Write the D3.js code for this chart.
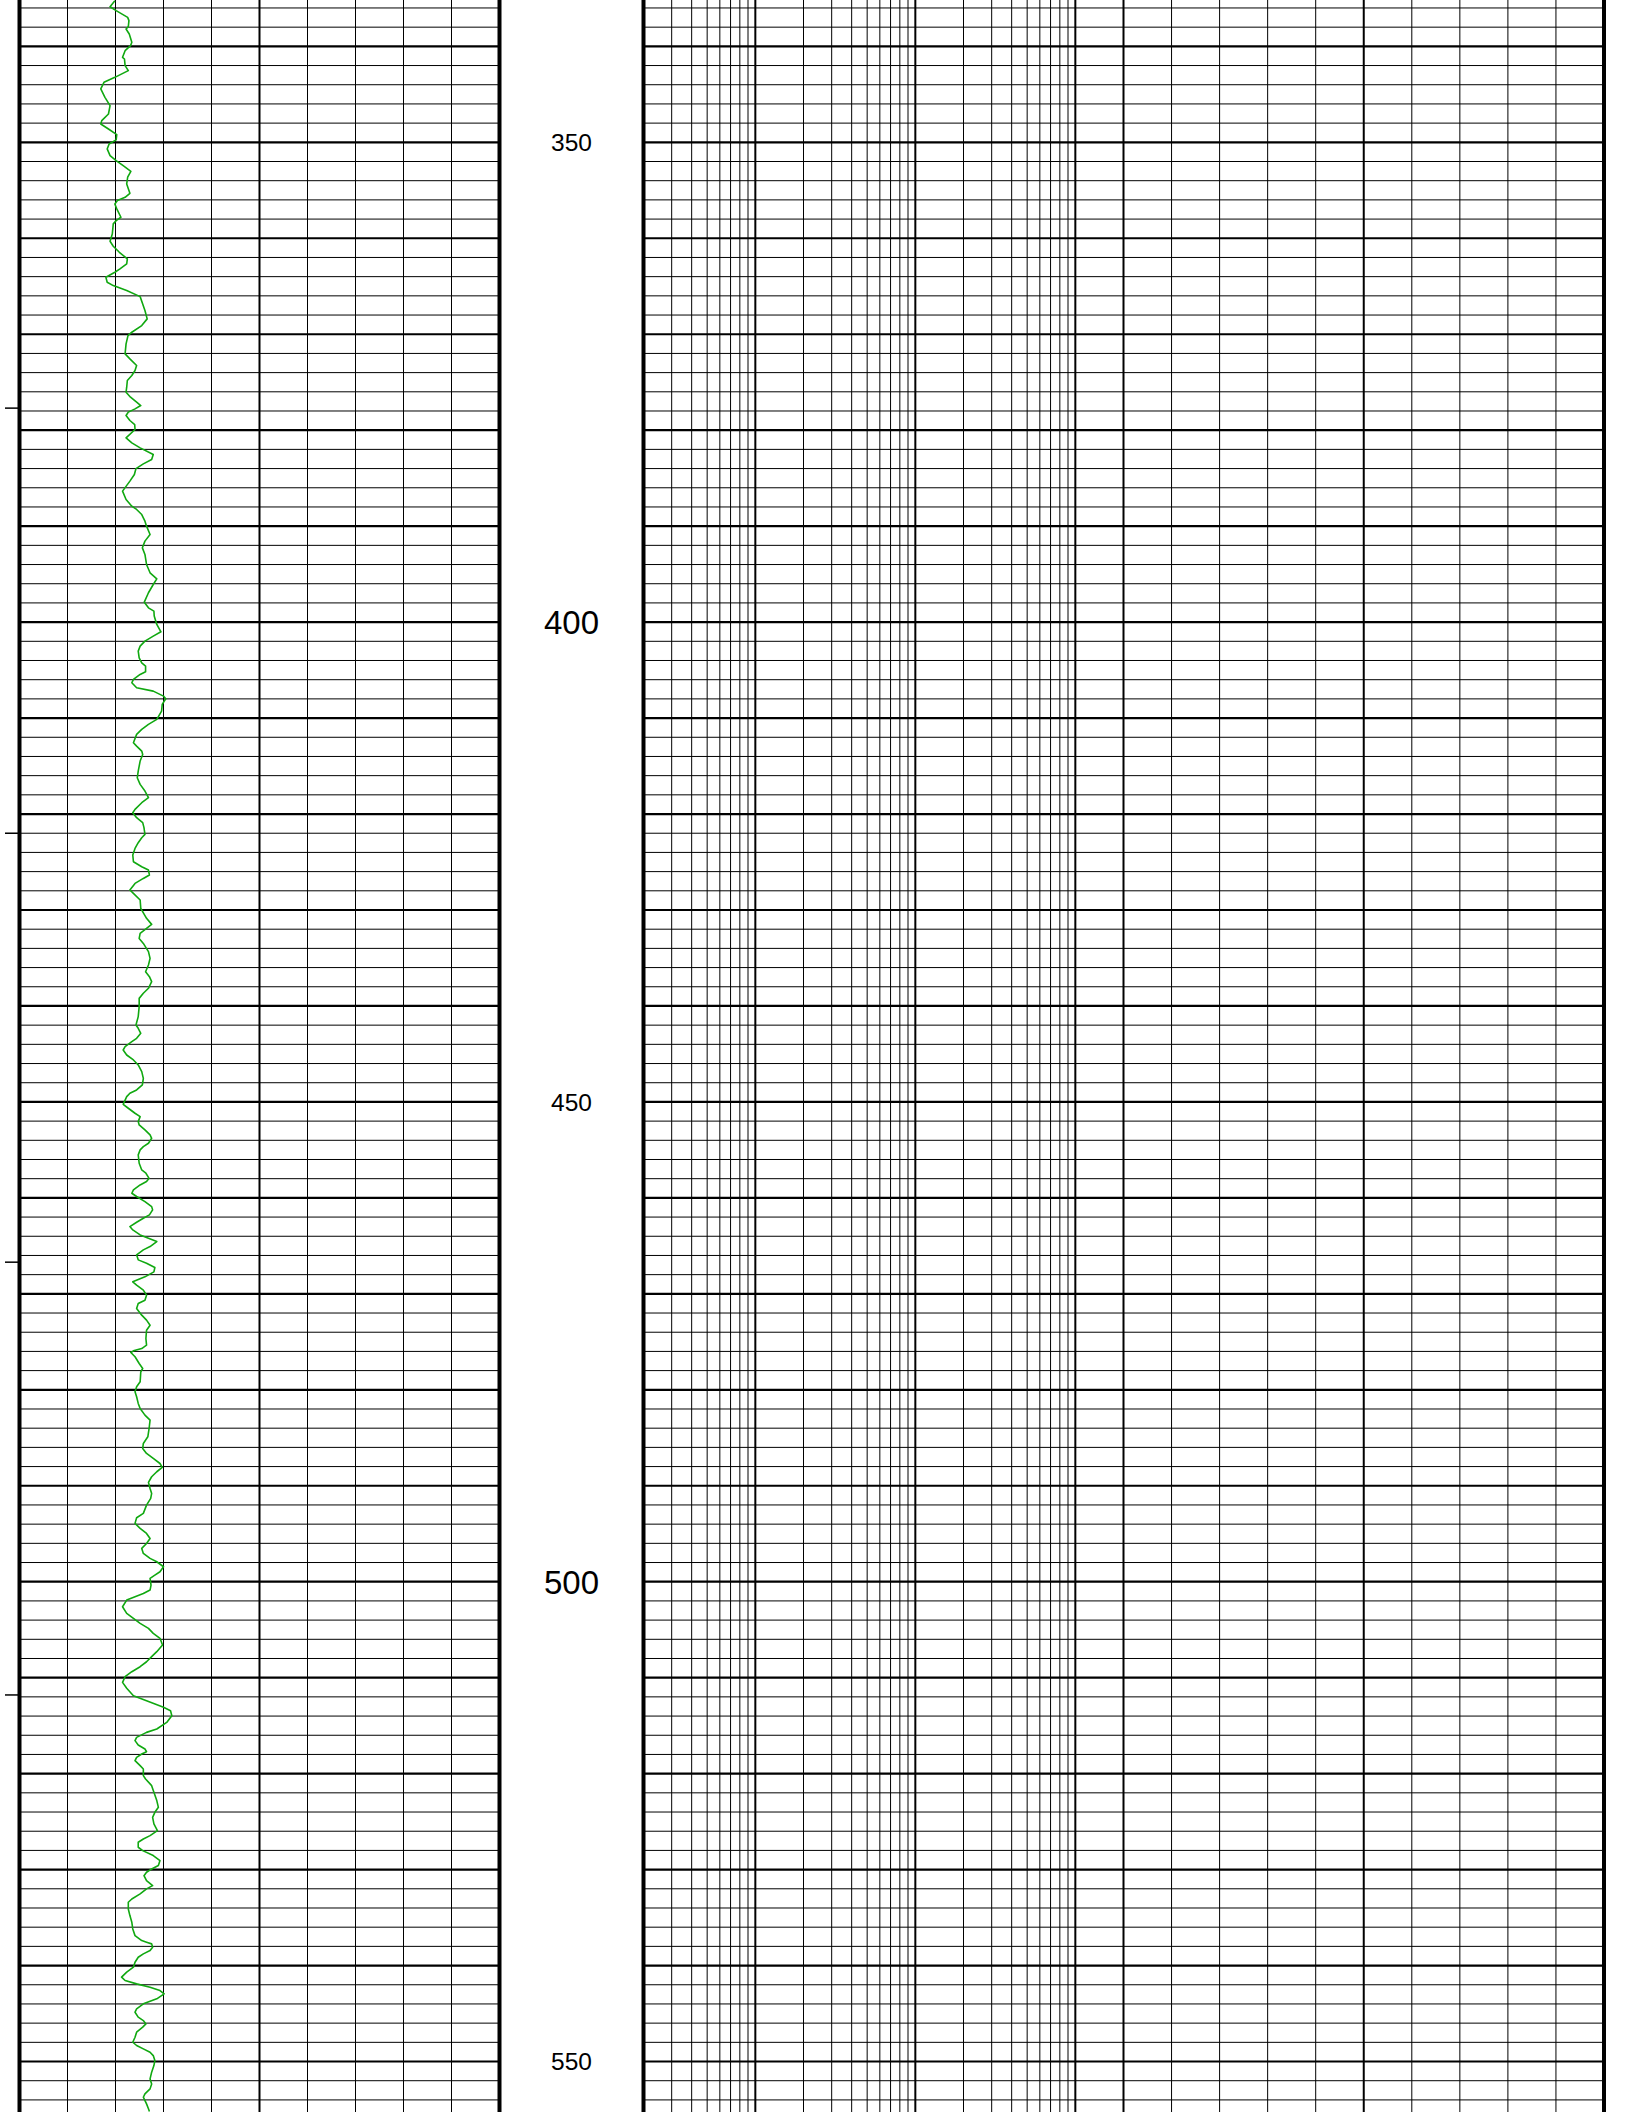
<!DOCTYPE html>
<html><head><meta charset="utf-8">
<script src="https://cdn.jsdelivr.net/npm/d3@7"></script>
<style>html,body{margin:0;padding:0;background:#fff;} svg{display:block;}</style>
</head><body>
<script>
// ---------- data ----------
const depthRange = [335.17, 555.26];          // visible depth window
const depthLabels = [350, 400, 450, 500, 550];
const sideTickDepths = [377.7, 422.0, 466.7, 511.8];
const grDomain = [0, 150];                    // left (linear) track
const resDomain = [2, 2000];                  // right log track
const linDomain = [0, 100];                   // right linear track
// gamma-ray style curve: [depth, value]
const grCurve = [
[335.24,29.8],[335.87,28.3],[336.28,30.2],[336.98,33.8],[337.32,34.2],[337.95,34.0],[338.19,33.3],[338.71,34.3],[339.58,35.1],[339.93,34.7],
[340.45,33.0],[341.14,32.2],[341.32,32.8],[342.01,33.0],[342.53,34.0],[343.23,29.8],[343.75,26.4],[344.44,25.4],[345.31,26.7],[346.18,28.3],
[347.05,27.8],[347.74,25.7],[348.09,25.4],[348.61,27.8],[349.20,30.4],[349.75,30.2],[350.17,28.0],[350.69,27.4],[351.39,28.3],[351.91,30.2],
[352.43,32.4],[353.02,34.8],[353.64,33.8],[354.34,33.5],[355.31,34.5],[355.73,33.0],[356.07,30.6],[356.42,29.8],[356.94,30.4],[357.81,31.7],
[358.16,30.2],[358.50,29.3],[359.55,29.0],[360.31,28.3],[360.83,29.3],[361.46,31.2],[362.15,33.7],[362.67,33.5],[363.19,31.4],[363.54,29.8],
[364.06,27.0],[364.58,27.4],[364.93,29.3],[365.45,33.5],[366.08,37.7],[366.84,38.5],[367.53,39.2],[368.40,39.9],[369.10,38.2],[369.79,35.1],
[370.14,33.9],[371.00,33.3],[372.05,33.0],[372.57,34.5],[373.26,36.6],[373.78,36.1],[374.30,35.1],[374.82,33.7],[375.52,33.5],[376.04,33.3],
[376.56,34.7],[377.08,36.6],[377.43,37.9],[377.78,36.1],[378.12,34.0],[378.47,33.3],[378.99,34.5],
[379.41,36.0],[379.93,36.1],[380.80,33.3],[381.32,35.1],[381.84,37.7],[382.54,41.8],[383.06,41.3],[383.51,38.7],[384.00,36.4],[384.62,35.9],
[385.31,34.5],[386.35,32.2],[387.22,33.3],[387.92,35.1],[388.26,36.6],[388.79,38.2],[389.48,39.2],[390.00,39.7],[390.87,40.8],[391.56,39.2],
[392.26,38.4],[392.95,39.2],[393.99,39.7],[394.86,40.8],[395.49,42.9],[396.08,41.8],[396.94,40.3],[397.92,39.0],[398.51,40.3],[398.85,42.0],
[399.37,42.1],[400.24,42.9],[401.01,44.2],[401.46,41.8],[401.98,39.2],[402.50,37.7],[403.02,37.1],[403.72,37.4],[404.24,38.2],[404.58,39.4],
[405.17,39.4],[405.45,37.7],[405.97,35.6],[406.32,35.1],[406.84,36.6],[407.19,41.8],[407.71,45.0],[407.99,45.7],[408.58,44.6],[409.27,44.4],
[410.14,42.9],[410.66,40.3],[411.18,38.2],[411.70,36.6],[412.57,35.6],[412.92,36.6],[413.44,38.2],[413.79,38.5],[414.48,37.7],[415.52,37.1],
[416.22,36.8],[416.91,37.7],[417.60,39.2],[418.30,40.3],[418.82,38.2],[419.51,36.1],[419.86,35.4],[420.38,36.6],[420.90,38.5],[421.42,38.9],
[422.12,39.2],[422.47,38.2],[422.99,37.1],
[423.58,36.1],[424.27,35.4],[424.97,35.6],[425.49,38.2],[425.84,40.3],[426.36,40.6],[426.71,38.7],[427.23,36.1],[427.92,34.5],[428.27,35.6],
[428.96,37.7],[429.83,37.9],[430.87,39.7],[431.50,41.3],[431.91,39.7],[432.43,37.7],[432.96,37.4],[433.48,38.7],[434.34,40.3],[435.04,40.8],
[435.73,40.3],[436.43,39.4],[436.95,40.6],[437.47,41.3],[438.16,40.3],[438.68,38.7],[439.21,37.4],[440.07,37.4],[441.11,37.1],[441.98,36.4],
[442.33,37.1],[442.85,37.9],[443.37,36.6],[443.72,35.1],[444.24,33.0],[444.59,32.4],[445.11,33.5],[445.63,35.6],[446.15,37.1],[446.84,38.2],
[447.54,38.7],[448.23,38.4],[448.75,36.6],[449.10,34.5],[449.45,33.5],[450.25,32.4],[450.66,34.0],[451.18,36.1],[451.53,37.7],[452.05,37.1],
[452.40,37.4],[452.92,39.2],[453.44,40.8],[453.79,41.3],[454.31,40.3],[454.66,38.7],[455.00,37.7],[455.52,37.1],[456.39,37.4],[457.09,38.2],
[457.43,39.5],[457.96,40.5],[458.30,39.7],[458.65,37.7],[459.17,35.6],[459.52,35.1],[459.86,36.6],[460.39,39.2],[460.91,41.3],[461.25,41.6],
[461.77,40.6],[462.12,38.7],[462.54,36.6],[462.99,34.5],[463.34,35.4],[463.86,37.7],[464.21,40.3],[464.55,42.9],[465.07,40.8],[465.42,38.7],
[465.94,36.6],[466.46,37.1],[466.81,39.7],[467.26,42.3],
[467.71,42.0],[468.23,39.2],[468.75,35.4],[469.10,36.6],[469.62,38.7],[470.14,39.7],[470.66,39.2],[471.01,37.1],[471.53,36.6],[472.22,38.2],
[472.74,39.7],[473.27,40.8],[473.79,39.7],[474.65,39.5],[475.35,39.7],[475.70,38.2],[475.94,35.6],[476.11,34.8],[476.56,36.1],[477.26,37.4],
[477.78,38.5],[478.13,37.9],[479.17,37.7],[479.69,36.6],[480.21,36.1],[480.73,36.6],[481.42,37.1],[481.95,37.7],[482.64,39.2],[483.16,40.8],
[484.03,40.5],[484.90,40.1],[485.59,38.7],[486.11,38.5],[486.63,39.7],[487.15,41.8],[487.68,43.9],[488.09,44.6],[488.54,42.9],[489.06,41.3],
[489.65,40.3],[490.28,40.8],[490.80,41.3],[491.32,41.0],[492.02,39.7],[492.88,38.7],[493.33,36.6],[493.92,36.1],[494.44,37.7],[494.97,39.7],
[495.49,40.8],[496.01,39.7],[496.53,38.2],[497.05,38.7],[497.57,40.8],[497.92,42.9],[498.44,45.0],[498.96,43.9],[499.31,42.3],[499.65,40.8],
[500.35,41.1],[500.87,40.8],[501.22,38.7],[501.56,36.1],[501.91,33.5],[502.61,32.2],[503.30,33.5],[503.82,35.6],[504.34,37.7],[504.86,40.3],
[505.38,41.8],[505.90,43.9],[506.60,44.7],[507.29,42.9],[507.81,41.3],[508.34,39.7],[508.86,37.7],[509.38,35.1],[509.90,33.0],[510.49,32.2],
[511.11,33.5],
[511.88,35.6],[512.40,39.7],[513.09,45.0],[513.44,47.2],[513.96,47.6],[514.66,46.0],[515.35,42.9],[515.70,39.7],[516.22,36.6],[516.56,36.1],
[517.01,37.1],[517.43,39.2],[517.71,39.7],[517.95,38.2],[518.30,36.6],[518.65,36.1],[519.17,37.7],[519.51,38.7],[520.21,38.7],[520.56,39.4],
[521.25,41.3],[521.94,42.0],[522.81,42.9],[523.51,43.4],[524.03,42.3],[524.55,41.6],[525.24,42.0],[525.94,43.1],[526.46,40.8],[526.81,38.7],
[527.15,37.1],[527.67,37.1],[528.02,38.5],[528.54,41.8],[529.06,43.9],[529.58,43.4],[529.93,41.3],[530.28,39.7],[530.63,38.9],[531.15,39.7],
[531.67,41.6],[532.01,39.7],[532.53,37.7],[533.06,35.1],[533.40,34.0],[534.10,34.0],[534.79,34.5],[535.49,35.1],[536.18,35.4],[536.88,36.1],
[537.40,38.2],[537.57,39.7],[537.74,41.3],[538.09,41.6],[538.44,40.8],[538.78,38.7],[539.13,37.1],[539.65,36.1],[540.17,35.6],[540.69,33.5],
[541.21,31.9],[541.56,33.0],[541.91,36.6],[542.26,40.8],[542.60,43.9],[542.95,45.2],[543.47,42.9],[543.99,38.7],[544.51,36.6],[544.86,36.1],
[545.38,37.1],[545.73,38.7],[546.08,39.5],[546.42,38.5],[546.94,36.6],[547.47,36.1],[547.99,35.4],[548.33,36.6],[548.68,38.7],[549.03,40.8],
[549.38,41.8],[549.90,42.3],[550.42,42.0],[551.11,41.3],[551.81,40.8],[552.33,41.3],[552.85,40.8],[553.37,39.2],[553.72,38.7],[554.41,39.7],
[554.93,40.3],[555.21,40.6]
];

// ---------- layout ----------
const W = 1627, H = 2112;
const svg = d3.select("body").append("svg").attr("width", W).attr("height", H);

const y = d3.scaleLinear().domain(depthRange).range([0, H]);
const xGR = d3.scaleLinear().domain(grDomain).range([19.5, 499.5]);
const xRes = d3.scaleLog().domain(resDomain).range([643.5, 1123.5]);
const xLin = d3.scaleLinear().domain(linDomain).range([1123.5, 1604]);

const trackSpans = [[xGR.range()[0], xGR.range()[1]], [xRes.range()[0], xLin.range()[1]]];

// horizontal grid
const gridDepths = d3.range(Math.ceil(depthRange[0] / 2) * 2, depthRange[1], 2);
const hg = svg.append("g");
trackSpans.forEach(([a, b]) => {
  hg.selectAll(null).data(gridDepths).enter().append("line")
    .attr("x1", a).attr("x2", b)
    .attr("y1", d => y(d)).attr("y2", d => y(d))
    .attr("stroke", "#000")
    .attr("stroke-width", d => d % 10 === 0 ? 2.2 : 1);
});

// vertical grid — left track
const grLines = d3.range(grDomain[0], grDomain[1] + 0.01, 15);
svg.append("g").selectAll("line").data(grLines.slice(1, -1)).enter().append("line")
  .attr("x1", d => xGR(d)).attr("x2", d => xGR(d))
  .attr("y1", 0).attr("y2", H)
  .attr("stroke", "#000")
  .attr("stroke-width", d => d === 75 ? 2 : 1);

// vertical grid — log track
const logLines = [];
[1, 10, 100, 1000].forEach(dec => { for (let k = 1; k <= 9; k++) { const v = k * dec; if (v > resDomain[0] && v <= resDomain[1]) logLines.push(v); } });
svg.append("g").selectAll("line").data(logLines).enter().append("line")
  .attr("x1", d => xRes(d)).attr("x2", d => xRes(d))
  .attr("y1", 0).attr("y2", H)
  .attr("stroke", "#000")
  .attr("stroke-width", d => (d === 10 || d === 100 || d === 1000 || d === 2000) ? 2 : 1);

// vertical grid — linear track
const linLines = d3.range(linDomain[0] + 10, linDomain[1], 10);
svg.append("g").selectAll("line").data(linLines).enter().append("line")
  .attr("x1", d => xLin(d)).attr("x2", d => xLin(d))
  .attr("y1", 0).attr("y2", H)
  .attr("stroke", "#000")
  .attr("stroke-width", d => d === 50 ? 2 : 1);

// track borders
const borders = [xGR.range()[0], xGR.range()[1], xRes.range()[0], xLin.range()[1]];
svg.append("g").selectAll("line").data(borders).enter().append("line")
  .attr("x1", d => d).attr("x2", d => d)
  .attr("y1", 0).attr("y2", H)
  .attr("stroke", "#000").attr("stroke-width", 4);

// side ticks left of track 1
svg.append("g").selectAll("line").data(sideTickDepths).enter().append("line")
  .attr("x1", 5).attr("x2", xGR.range()[0])
  .attr("y1", d => y(d)).attr("y2", d => y(d))
  .attr("stroke", "#000").attr("stroke-width", 1.5);

// depth labels
const depthX = (xGR.range()[1] + xRes.range()[0]) / 2;
svg.append("g").selectAll("text").data(depthLabels).enter().append("text")
  .attr("x", depthX)
  .attr("y", d => y(d) + 0.358 * (d % 100 === 0 ? 33 : 24.5))
  .attr("text-anchor", "middle")
  .attr("font-family", "'Liberation Sans', Arial, sans-serif")
  .attr("font-size", d => d % 100 === 0 ? 33 : 24.5)
  .attr("fill", "#000")
  .text(d => d);

// curve
svg.append("clipPath").attr("id", "clipGR").append("rect")
  .attr("x", xGR.range()[0]).attr("y", 0)
  .attr("width", xGR.range()[1] - xGR.range()[0]).attr("height", H);
const line = d3.line().x(d => xGR(d[1])).y(d => y(d[0]));
svg.append("path").datum(grCurve)
  .attr("clip-path", "url(#clipGR)")
  .attr("d", line)
  .attr("fill", "none")
  .attr("stroke", "#10a810")
  .attr("stroke-width", 1.6)
  .attr("stroke-linejoin", "round");
</script>
</body></html>
